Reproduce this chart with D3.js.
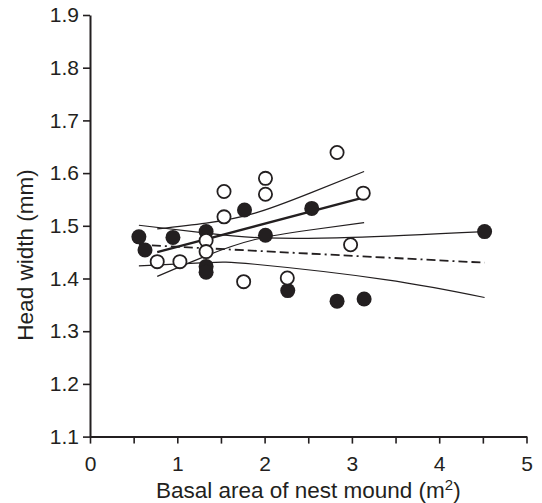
<!DOCTYPE html>
<html>
<head>
<meta charset="utf-8">
<script src="https://cdn.jsdelivr.net/npm/d3@7/dist/d3.min.js"></script>
<style>
  body { margin: 0; background: #fff; }
  svg text { font-family: Arial, "Liberation Sans", Helvetica, sans-serif; fill: #231f20; }
</style>
</head>
<body>
<svg id="chart" width="542" height="503"></svg>
<script>
// Head width of workers against basal area of the nest mound, two groups of colonies

// Group shown with filled circles
const filledArea = [0.56, 0.63, 0.95, 1.33, 1.33, 1.33, 1.77, 2.01, 2.54, 2.265, 2.83, 3.14, 4.52];
const filledHead = [1.479, 1.454, 1.478, 1.489, 1.423, 1.412, 1.530, 1.482, 1.533, 1.377, 1.357, 1.361, 1.489];

// Group shown with open circles
const openArea = [0.77, 1.03, 1.33, 1.33, 1.535, 1.535, 2.01, 2.01, 1.76, 2.26, 2.83, 3.13, 2.985];
const openHead = [1.432, 1.432, 1.472, 1.451, 1.517, 1.565, 1.590, 1.560, 1.394, 1.401, 1.639, 1.562, 1.464];

// Fitted regression lines (ends of the fitted range)
const filledFitArea = [0.56, 4.52];
const filledFitHead = [1.464, 1.430];
const openFitArea = [0.77, 3.14];
const openFitHead = [1.450, 1.554];

// 95% confidence limits around each fit
const filledUpperArea = [0.56, 1.33, 2.0, 3.0, 4.52];
const filledUpperHead = [1.501, 1.486, 1.477, 1.478, 1.489];
const filledLowerArea = [0.56, 1.33, 1.89, 3.38, 4.52];
const filledLowerHead = [1.424, 1.430, 1.427, 1.398, 1.364];
const openBandArea = [0.77, 1.33, 1.89, 2.52, 3.14];
const openUpperHead = [1.494, 1.505, 1.524, 1.562, 1.603];
const openLowerHead = [1.404, 1.443, 1.474, 1.492, 1.506];

// Axis ticks
const xTickValues = [0, 0.5, 1, 1.5, 2, 2.5, 3, 3.5, 4, 4.5, 5];
const xTickLabels = ["0", "", "1", "", "2", "", "3", "", "4", "", "5"];
const yTickValues = [1.1, 1.2, 1.3, 1.4, 1.5, 1.6, 1.7, 1.8, 1.9];
const yTickLabels = ["1.1", "1.2", "1.3", "1.4", "1.5", "1.6", "1.7", "1.8", "1.9"];

const ink = "#231f20";
const font = "Arial, 'Liberation Sans', Helvetica, sans-serif";
const margin = { left: 90, top: 15, right: 15.5, bottom: 66.4 };
const W = 542, H = 503;
const svg = d3.select("#chart");

const x = d3.scaleLinear().domain([0, 5]).range([margin.left, W - margin.right]);
const y = d3.scaleLinear().domain([1.1, 1.9]).range([H - margin.bottom, margin.top]);

// Axes
const xAxis = d3.axisBottom(x).tickValues(xTickValues)
  .tickFormat((d, i) => xTickLabels[i]).tickSize(7).tickPadding(12).tickSizeOuter(0);
const yAxis = d3.axisLeft(y).tickValues(yTickValues)
  .tickFormat((d, i) => yTickLabels[i]).tickSize(7).tickPadding(4).tickSizeOuter(0);

const gx = svg.append("g").attr("transform", `translate(0,${y(1.1)})`).call(xAxis);
const gy = svg.append("g").attr("transform", `translate(${x(0)},0)`).call(yAxis);
[gx, gy].forEach(g => {
  g.select(".domain").attr("stroke", ink).attr("stroke-width", 2);
  g.selectAll(".tick line").attr("stroke", ink).attr("stroke-width", 1.6);
  g.selectAll(".tick text").attr("font-size", 21).attr("fill", ink).attr("font-family", font);
});

// Axis titles
const xt = svg.append("text")
  .attr("x", (x(0) + x(5)) / 2).attr("y", 498)
  .attr("text-anchor", "middle").attr("font-size", 22.5);
xt.append("tspan").text("Basal area of nest mound (m");
xt.append("tspan").attr("font-size", 15).attr("dy", -8).text("2");
xt.append("tspan").attr("dy", 8).text(")");

svg.append("text")
  .attr("transform", "translate(33,255) rotate(-90)")
  .attr("text-anchor", "middle").attr("font-size", 22.5)
  .text("Head width (mm)");

// Lines
const band = d3.line().x(d => x(d[0])).y(d => y(d[1])).curve(d3.curveNatural);
const straight = d3.line().x(d => x(d[0])).y(d => y(d[1]));
const pairs = (a, b) => a.map((v, i) => [v, b[i]]);

const lines = svg.append("g").attr("fill", "none").attr("stroke", ink);
lines.append("path").attr("d", band(pairs(filledUpperArea, filledUpperHead))).attr("stroke-width", 1.2);
lines.append("path").attr("d", band(pairs(filledLowerArea, filledLowerHead))).attr("stroke-width", 1.2);
lines.append("path").attr("d", band(pairs(openBandArea, openUpperHead))).attr("stroke-width", 1.2);
lines.append("path").attr("d", band(pairs(openBandArea, openLowerHead))).attr("stroke-width", 1.2);
lines.append("path").attr("d", straight(pairs(filledFitArea, filledFitHead)))
  .attr("stroke-width", 1.8).attr("stroke-dasharray", "9,4,9,4,2,4");
lines.append("path").attr("d", straight(pairs(openFitArea, openFitHead))).attr("stroke-width", 2.4);

// Points
svg.append("g").selectAll("circle").data(pairs(filledArea, filledHead)).join("circle")
  .attr("cx", d => x(d[0])).attr("cy", d => y(d[1])).attr("r", 7.5)
  .attr("fill", ink);
svg.append("g").selectAll("circle").data(pairs(openArea, openHead)).join("circle")
  .attr("cx", d => x(d[0])).attr("cy", d => y(d[1])).attr("r", 6.6)
  .attr("fill", "#fff").attr("stroke", ink).attr("stroke-width", 1.8);
</script>
</body>
</html>
